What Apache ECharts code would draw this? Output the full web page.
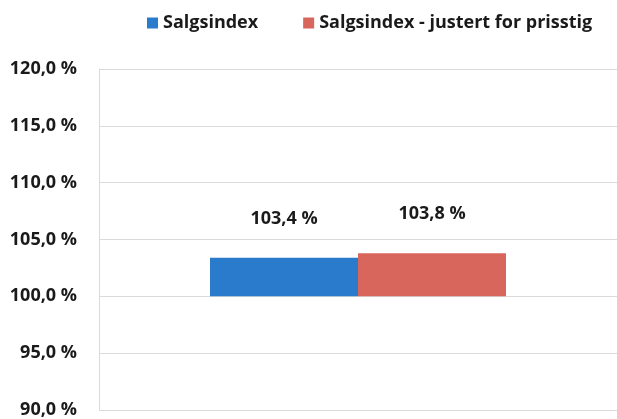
<!DOCTYPE html>
<html>
<head>
<meta charset="utf-8">
<script src="https://cdn.jsdelivr.net/npm/echarts@6/dist/echarts.min.js"></script>
<style>
html,body{margin:0;padding:0;background:#fff;}
#chart{width:617px;height:419px;}
</style>
</head>
<body>
<div id="chart"></div>
<script>
const categories = [''];
const seriesNames = ['Salgsindex', 'Salgsindex - justert for prisstig'];
const salgsindex = [103.4];
const justert = [103.8];
const baseValue = 100;
const yTicks = [90, 95, 100, 105, 110, 115, 120];
const colors = ['#2a7bcb', '#d8665c'];

const seriesValues = [salgsindex, justert];
const fmt = v => v.toFixed(1).replace('.', ',') + ' %';
const FONT = '"Open Sans", sans-serif';

const series = [];
seriesValues.forEach((vals, i) => {
  series.push({
    name: 'base' + i,
    type: 'bar',
    stack: 's' + i,
    data: vals.map(() => baseValue),
    barWidth: 148,
    barGap: '0%',
    itemStyle: { color: 'rgba(0,0,0,0)' },
    silent: true,
    legendHoverLink: false
  });
  series.push({
    name: seriesNames[i],
    type: 'bar',
    stack: 's' + i,
    data: vals.map(v => +(v - baseValue).toFixed(4)),
    barWidth: 148,
    barGap: '0%',
    itemStyle: { color: colors[i] },
    label: {
      show: true,
      position: 'top',
      distance: 30,
      formatter: p => fmt(vals[p.dataIndex]),
      fontFamily: FONT,
      fontWeight: 'bold',
      fontSize: 18,
      color: '#1a1a1a'
    }
  });
});

const chart = echarts.init(document.getElementById('chart'), null, { renderer: 'canvas' });
chart.setOption({
  animation: false,
  backgroundColor: '#ffffff',
  legend: {
    data: seriesNames,
    left: 147,
    top: 14,
    padding: 0,
    itemWidth: 11,
    itemHeight: 11,
    itemGap: 45,
    icon: 'rect',
    textStyle: { fontFamily: FONT, fontWeight: 'bold', fontSize: 18, color: '#1a1a1a', padding: [0, 0, 0, 0] }
  },
  grid: { left: 99, right: 0, top: 69, bottom: 8, containLabel: false },
  xAxis: {
    type: 'category',
    data: categories,
    axisLine: { show: false },
    axisTick: { show: false },
    axisLabel: { show: false }
  },
  yAxis: {
    type: 'value',
    min: yTicks[0],
    max: yTicks[yTicks.length - 1],
    interval: yTicks[1] - yTicks[0],
    axisLine: { show: true, lineStyle: { color: '#dadada', width: 1 } },
    axisTick: { show: false },
    splitLine: { show: true, lineStyle: { color: '#dadada', width: 1 } },
    axisLabel: {
      formatter: v => fmt(v),
      margin: 22,
      fontFamily: FONT,
      fontWeight: 'bold',
      fontSize: 18,
      color: '#1a1a1a'
    }
  },
  series: series
});
</script>
</body>
</html>
